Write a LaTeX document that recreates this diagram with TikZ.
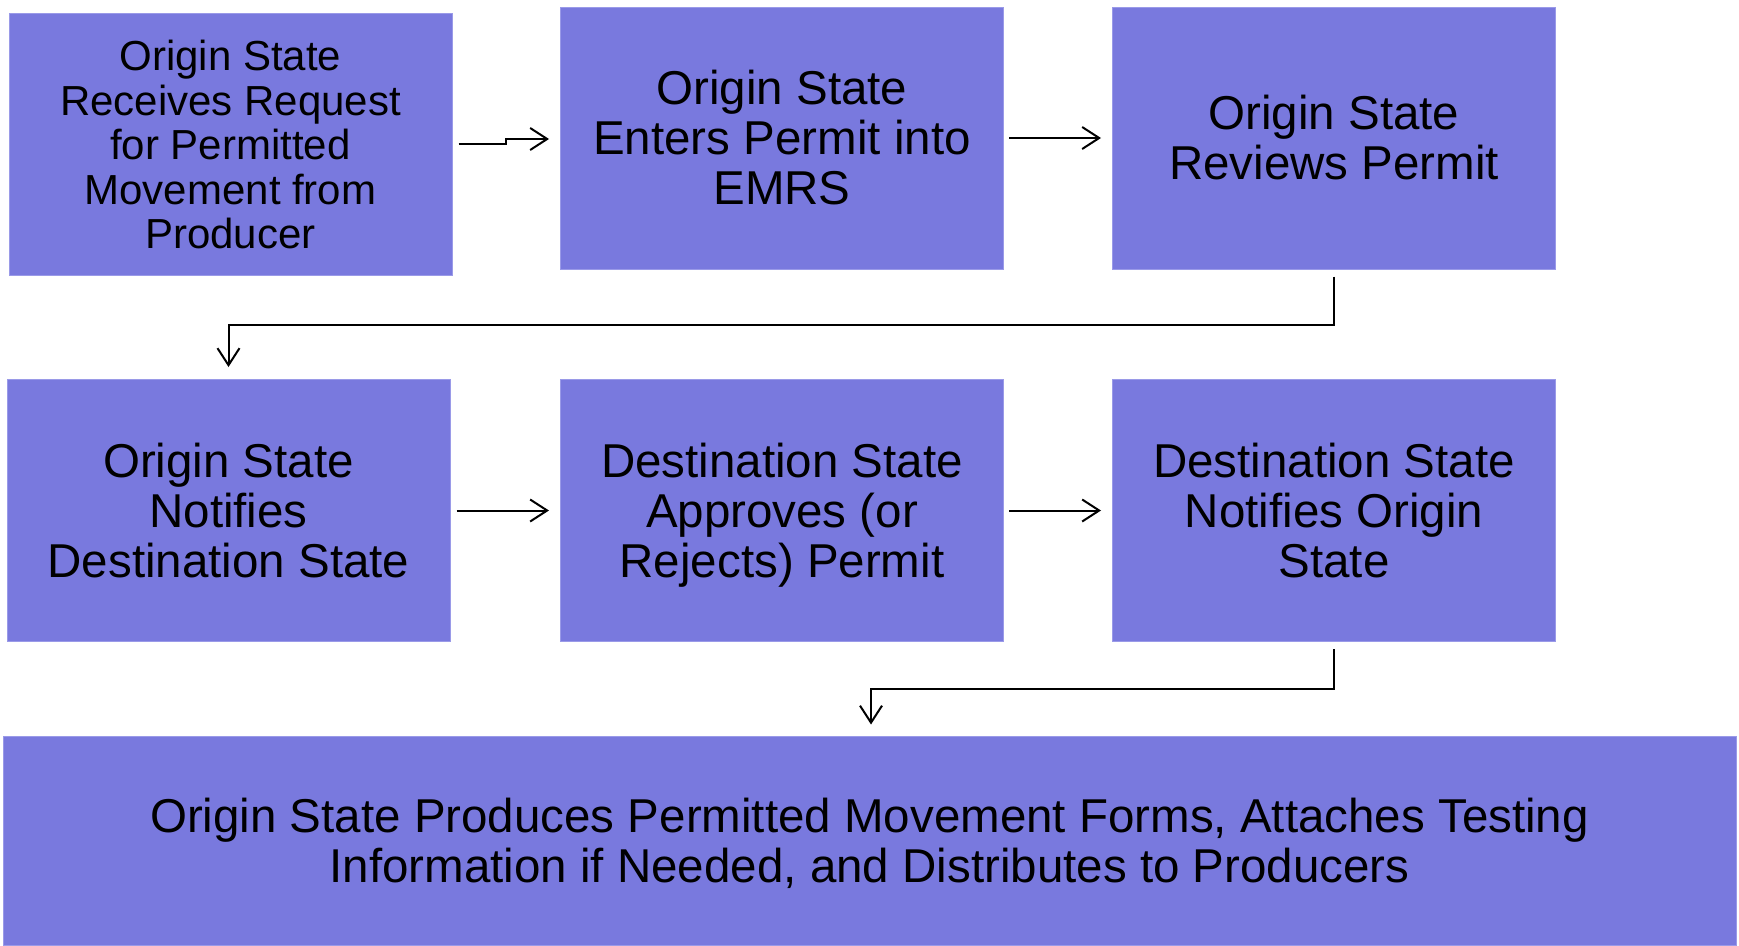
\documentclass[tikz,border=0pt]{standalone}
\usepackage{fontspec}
\setmainfont{Liberation Sans}
\usetikzlibrary{arrows.meta}
\definecolor{boxfill}{HTML}{7979DE}
\definecolor{boxedge}{HTML}{9A9AE8}
\begin{document}
\begin{tikzpicture}[x=1pt,y=-1pt,
  stepbox/.style={fill=boxfill,draw=boxedge,line width=1pt,inner sep=0pt,align=center,
    minimum width=443pt,minimum height=262pt,font=\fontsize{47.5}{50}\selectfont},
  arr/.style={draw=black,line width=2pt,-{Straight Barb[length=17pt,width=22pt,line width=2pt]}}]
\useasboundingbox (0,0) rectangle (1739,945);
\node[stepbox,font=\fontsize{42}{44.5}\selectfont] (b1) at (230.5,144.5) {Origin State\\Receives Request\\for Permitted\\Movement from\\Producer};
\node[stepbox] (b2) at (782,138) {Origin State\\Enters Permit into\\EMRS};
\node[stepbox] (b3) at (1334,138) {Origin State\\Reviews Permit};
\node[stepbox] (b4) at (228.5,510.5) {Origin State\\Notifies\\Destination State};
\node[stepbox] (b5) at (782,510.5) {Destination State\\Approves (or\\\smash{Rejects) Permit}};
\node[stepbox] (b6) at (1334,510.5) {Destination State\\Notifies Origin\\State};
\node[stepbox,minimum width=1733pt,minimum height=209pt] (b7) at (869.5,840.5) {Origin State Produces Permitted Movement Forms, Attaches Testing\\\smash{Information if Needed, and Distributes to Producers}};
\coordinate (s1) at (506,144);
\draw[arr] ([xshift=6pt,yshift=0.5pt]b1.east) -- (s1) -- (506,139) -- ([xshift=-11pt,yshift=-1pt]b2.west);
\draw[arr] ([xshift=5pt]b2.east) -- ([xshift=-11pt]b3.west);
\draw[arr] ([yshift=-7pt]b3.south) -- ++(0,48) -| ([yshift=12pt]b4.north);
\draw[arr] ([xshift=6pt]b4.east) -- ([xshift=-11pt]b5.west);
\draw[arr] ([xshift=5pt]b5.east) -- ([xshift=-11pt]b6.west);
\draw[arr] ([yshift=-7pt]b6.south) -- ++(0,40) -| ([xshift=1.5pt,yshift=11pt]b7.north);
\end{tikzpicture}
\end{document}
